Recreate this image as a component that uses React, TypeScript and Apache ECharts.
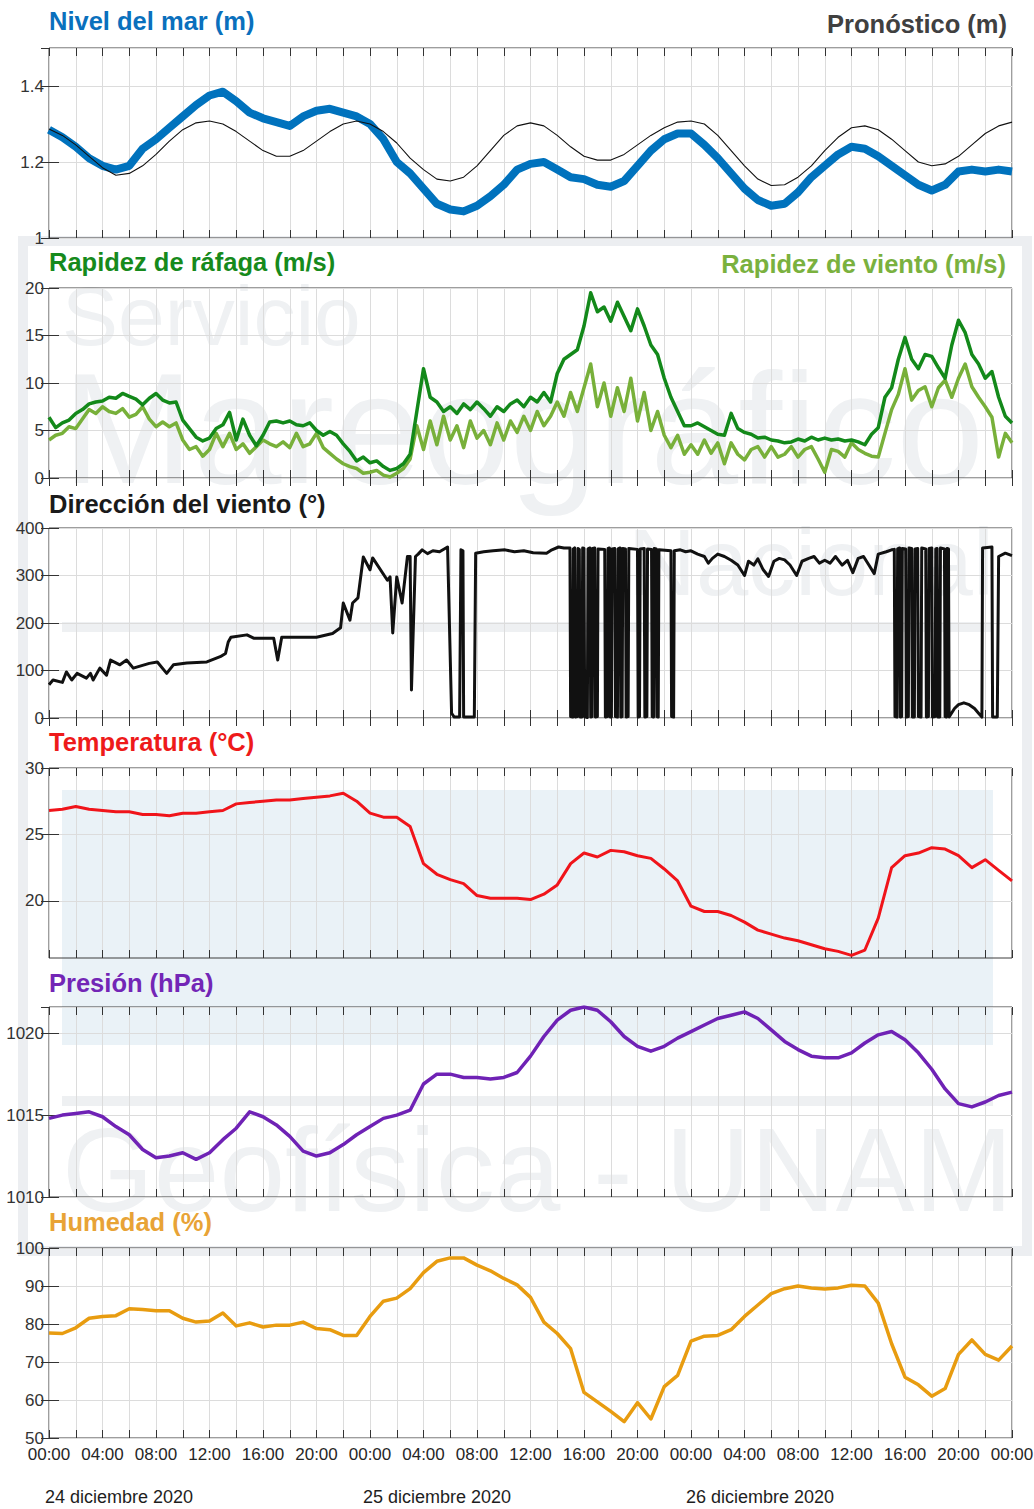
import React, { useEffect, useRef } from 'react';
import * as echarts from 'echarts';

// ---------------- DATA ----------------
// Hours from 24 dic 2020 00:00 (0) to 27 dic 2020 00:00 (72)
const timeTickLabels = ['00:00', '04:00', '08:00', '12:00', '16:00', '20:00'];
const dateLabels = ['24 diciembre 2020', '25 diciembre 2020', '26 diciembre 2020'];

// hourly observed sea level (m)
const seaLevel = [
  1.285, 1.265, 1.24, 1.21, 1.19, 1.18, 1.19, 1.235, 1.26, 1.29,
  1.32, 1.35, 1.375, 1.385, 1.36, 1.33, 1.315, 1.305, 1.295, 1.32,
  1.335, 1.34, 1.33, 1.32, 1.30, 1.26, 1.20, 1.17, 1.13, 1.09,
  1.075, 1.07, 1.085, 1.11, 1.14, 1.18, 1.195, 1.2, 1.18, 1.16,
  1.155, 1.14, 1.135, 1.15, 1.19, 1.23, 1.26, 1.275, 1.275, 1.245,
  1.21, 1.17, 1.13, 1.1, 1.085, 1.09, 1.12, 1.16, 1.19, 1.22,
  1.24, 1.235, 1.215, 1.19, 1.165, 1.14, 1.125, 1.14, 1.175, 1.18,
  1.175, 1.18, 1.175,
];

// hourly forecast (m)
const forecast = [
  1.287, 1.27, 1.245, 1.215, 1.185, 1.165, 1.17, 1.19, 1.22, 1.255,
  1.285, 1.303, 1.308, 1.30, 1.28, 1.255, 1.23, 1.215, 1.215, 1.23,
  1.255, 1.28, 1.30, 1.308, 1.30, 1.28, 1.25, 1.21, 1.18, 1.155,
  1.15, 1.16, 1.19, 1.23, 1.27, 1.295, 1.303, 1.295, 1.27, 1.24,
  1.215, 1.205, 1.205, 1.22, 1.245, 1.27, 1.29, 1.305, 1.308, 1.30,
  1.27, 1.23, 1.19, 1.155, 1.138, 1.14, 1.16, 1.19, 1.23, 1.265,
  1.29, 1.295, 1.285, 1.26, 1.23, 1.20, 1.19, 1.195, 1.215, 1.245,
  1.275, 1.295, 1.305,
];

// half-hourly gust speed (m/s)
const gust = [
  6.4, 5.3, 5.8, 6.1, 6.8, 7.2, 7.8, 8.0, 8.1, 8.5,
  8.4, 8.9, 8.6, 8.3, 7.7, 8.4, 8.9, 8.2, 7.9, 8.0,
  6.1, 5.2, 4.3, 3.9, 4.2, 5.2, 5.6, 6.9, 4.0, 6.2,
  4.5, 3.4, 4.5, 5.9, 6.0, 5.8, 6.0, 5.6, 5.5, 5.8,
  5.0, 4.5, 4.9, 4.5, 3.6, 2.8, 1.8, 2.2, 1.6, 1.8,
  1.2, 0.8, 1.0, 1.5, 2.5, 7.0, 11.5, 8.5, 8.0, 7.0,
  7.5, 6.8, 7.8, 7.2, 8.0, 7.3, 6.5, 7.5, 7.0, 7.8,
  8.2, 7.5, 8.5, 8.0, 9.0, 8.0, 11.0, 12.5, 13.0, 13.5,
  16.0, 19.5, 17.5, 18.0, 16.5, 18.5, 17.0, 15.5, 17.8, 16.0,
  14.0, 13.0, 10.5, 8.5, 7.0, 5.5, 5.5, 5.8, 5.4, 5.0,
  4.6, 4.5, 6.8, 5.2, 4.8, 4.6, 4.2, 4.3, 4.0, 3.9,
  3.7, 3.8, 4.1, 3.9, 4.3, 4.0, 4.2, 4.0, 4.1, 3.9,
  4.0, 3.8, 3.5, 4.6, 5.3, 8.5, 9.5, 12.5, 14.8, 12.5,
  11.5, 13.0, 12.8, 11.6, 10.5, 14.0, 16.6, 15.3, 13.0, 12.0,
  10.5, 11.2, 8.5, 6.5, 5.8,
];

// half-hourly wind speed (m/s)
const wind = [
  4.0, 4.5, 4.7, 5.4, 5.2, 6.2, 7.2, 6.8, 7.5, 7.0,
  6.8, 7.3, 6.4, 6.7, 7.5, 6.2, 5.4, 5.9, 5.4, 5.8,
  4.0, 3.0, 3.3, 2.3, 3.0, 4.7, 3.3, 4.7, 3.0, 3.6,
  2.6, 3.3, 4.0, 3.6, 3.3, 3.8, 3.2, 4.7, 3.3, 3.6,
  4.7, 3.2, 2.6, 2.0, 1.5, 1.2, 1.0, 0.5, 0.6, 0.8,
  0.3, 0.1, 0.5, 1.0, 2.0, 5.5, 3.0, 6.0, 3.5, 6.5,
  4.0, 5.5, 3.2, 6.0, 4.2, 5.0, 3.5, 5.8, 4.0, 6.0,
  4.8, 6.5, 5.0, 7.0, 5.5, 6.5, 8.0, 6.5, 9.0, 7.0,
  9.5, 12.0, 7.5, 10.0, 6.5, 9.5, 7.0, 10.5, 6.0, 9.0,
  5.0, 7.0, 4.5, 3.2, 4.5, 2.5, 3.5, 2.5, 4.0, 2.6,
  3.7, 1.5, 3.7, 2.5, 1.9, 3.0, 3.3, 2.2, 3.3, 2.2,
  2.5, 3.3, 2.2, 3.0, 3.3, 2.0, 0.6, 3.0, 2.8, 2.2,
  3.7, 3.0, 2.6, 2.3, 2.2, 4.7, 7.2, 8.8, 11.5, 8.2,
  9.2, 9.6, 7.5, 9.5, 10.3, 8.5, 10.5, 12.0, 9.6, 8.5,
  7.5, 6.4, 2.2, 4.7, 3.7,
];

// wind direction samples [hour, degrees]
const windDirection: [number, number][] = [
  [0, 70], [0.3, 80], [1.0, 75], [1.3, 97], [1.7, 80], [2.1, 94], [2.8, 84], [3.1, 94], [3.3, 80],
  [3.8, 105], [4.3, 90], [4.6, 122], [5.3, 112], [5.8, 122], [6.3, 105], [7.5, 115], [8.1, 118],
  [8.8, 94], [9.3, 112], [10.3, 116], [11.8, 118], [12.8, 129], [13.2, 136], [13.4, 160], [13.6, 170],
  [14.8, 175], [15.3, 168], [16.8, 168], [17.1, 122], [17.4, 170], [20.0, 170], [21.2, 178],
  [21.8, 190], [22.0, 242], [22.5, 206], [22.7, 242], [23.1, 253], [23.5, 339], [24.0, 312],
  [24.2, 337], [25.3, 290], [25.5, 297], [25.7, 179], [26.0, 297], [26.4, 242], [26.8, 340],
  [27.0, 340], [27.1, 59], [27.4, 340], [27.6, 345], [27.9, 354], [28.3, 346], [28.7, 352],
  [29.2, 350], [29.8, 360], [30.1, 10], [30.3, 2], [30.7, 2], [30.8, 354], [30.95, 352], [31.0, 2],
  [31.8, 2], [31.9, 347], [32.5, 350], [33.2, 352], [34.1, 354], [34.8, 350], [35.5, 352],
  [36.2, 348], [37.2, 347], [37.6, 354], [38.1, 360], [38.5, 358], [38.95, 358],
  [39.0, 3], [39.15, 2], [39.2, 356], [39.3, 358], [39.35, 2], [39.5, 3], [39.55, 357], [39.65, 355],
  [39.7, 2], [39.85, 2], [39.9, 358], [40.0, 357], [40.05, 3], [40.25, 1], [40.3, 356], [40.45, 358],
  [40.5, 2], [40.6, 3], [40.65, 357], [40.8, 358], [40.85, 2], [41.0, 3], [41.05, 356], [41.55, 355],
  [41.6, 2], [41.75, 3], [41.8, 357], [41.9, 358], [41.95, 2], [42.05, 2], [42.1, 356], [42.3, 357],
  [42.35, 3], [42.5, 2], [42.55, 356], [42.7, 358], [42.75, 2], [42.85, 3], [42.9, 357], [43.1, 356],
  [43.15, 2], [43.3, 3], [43.35, 357], [44.0, 355], [44.05, 2], [44.15, 3], [44.2, 356], [44.5, 357],
  [44.55, 2], [44.7, 3], [44.75, 356], [45.05, 355], [45.1, 3], [45.2, 2], [45.25, 357], [45.4, 356],
  [45.45, 3], [45.55, 2], [45.6, 354], [46.5, 352], [46.55, 3], [46.7, 2], [46.75, 352], [47.2, 354],
  [47.6, 350], [48.0, 352], [48.5, 345], [49.0, 340], [49.3, 326], [49.6, 336], [50.0, 345],
  [50.5, 340], [51.0, 332], [51.5, 322], [52.0, 300], [52.3, 330], [52.7, 322], [53.0, 335],
  [53.4, 312], [53.8, 298], [54.2, 330], [54.6, 336], [55.0, 333], [55.4, 322], [55.9, 300],
  [56.3, 330], [56.8, 336], [57.2, 340], [57.6, 326], [58.0, 332], [58.4, 326], [58.8, 340],
  [59.3, 322], [59.7, 332], [60.1, 306], [60.5, 336], [60.9, 340], [61.3, 322], [61.7, 304],
  [62.0, 345], [62.6, 350], [63.0, 354],
  [63.2, 355], [63.25, 3], [63.4, 2], [63.45, 356], [63.6, 358], [63.65, 2], [63.75, 3], [63.8, 357],
  [64.05, 356], [64.1, 2], [64.25, 3], [64.3, 358], [64.5, 357], [64.55, 2], [64.7, 2], [64.75, 356],
  [64.95, 357], [65.0, 3], [65.2, 2], [65.25, 358], [65.55, 356], [65.6, 2], [65.75, 3], [65.8, 357],
  [66.0, 358], [66.05, 2], [66.25, 3], [66.3, 356], [66.4, 357], [66.45, 2], [66.6, 2], [66.65, 358],
  [66.95, 356], [67.0, 3], [67.1, 2], [67.15, 357], [67.25, 356], [67.3, 2], [67.7, 20], [68.0, 28],
  [68.4, 32], [68.8, 28], [69.2, 20], [69.5, 10], [69.75, 2], [69.8, 358], [70.5, 360], [70.55, 2],
  [70.9, 2], [71.0, 340], [71.5, 347], [72.0, 342],
];

// hourly temperature (°C)
const temperature = [
  26.8, 26.9, 27.1, 26.9, 26.8, 26.7, 26.7, 26.5, 26.5, 26.4,
  26.6, 26.6, 26.7, 26.8, 27.3, 27.4, 27.5, 27.6, 27.6, 27.7,
  27.8, 27.9, 28.1, 27.5, 26.6, 26.3, 26.3, 25.6, 22.8, 22.0,
  21.6, 21.3, 20.4, 20.2, 20.2, 20.2, 20.1, 20.5, 21.2, 22.8,
  23.6, 23.3, 23.8, 23.7, 23.4, 23.2, 22.4, 21.5, 19.6, 19.2,
  19.2, 18.9, 18.4, 17.8, 17.5, 17.2, 17.0, 16.7, 16.4, 16.2,
  15.9, 16.3, 18.7, 22.5, 23.4, 23.6, 24.0, 23.9, 23.4, 22.5,
  23.1, 22.3, 21.5,
];

// hourly pressure (hPa)
const pressure = [
  1014.8, 1015.0, 1015.1, 1015.2, 1014.9, 1014.3, 1013.8, 1012.9, 1012.4, 1012.5,
  1012.7, 1012.3, 1012.7, 1013.5, 1014.2, 1015.2, 1014.9, 1014.4, 1013.7, 1012.8,
  1012.5, 1012.7, 1013.2, 1013.8, 1014.3, 1014.8, 1015.0, 1015.3, 1016.9, 1017.5,
  1017.5, 1017.3, 1017.3, 1017.2, 1017.3, 1017.6, 1018.6, 1019.8, 1020.8, 1021.4,
  1021.6, 1021.4, 1020.7, 1019.8, 1019.2, 1018.9, 1019.2, 1019.7, 1020.1, 1020.5,
  1020.9, 1021.1, 1021.3, 1020.9, 1020.2, 1019.5, 1019.0, 1018.6, 1018.5, 1018.5,
  1018.8, 1019.4, 1019.9, 1020.1, 1019.6, 1018.8, 1017.8, 1016.6, 1015.7, 1015.5,
  1015.8, 1016.2, 1016.4,
];

// hourly relative humidity (%)
const humidity = [
  77.6, 77.5, 79.0, 81.5, 82.0, 82.2, 84.0, 83.8, 83.5, 83.5,
  81.5, 80.5, 80.8, 82.9, 79.5, 80.3, 79.2, 79.7, 79.7, 80.5,
  78.8, 78.5, 77.0, 77.0, 82.0, 86.0, 86.8, 89.3, 93.5, 96.5,
  97.4, 97.4, 95.5, 94.0, 92.0, 90.3, 87.0, 80.5, 77.5, 73.5,
  62.0, 59.5, 57.0, 54.3, 59.3, 55.0, 63.5, 66.5, 75.5, 76.8,
  77.0, 78.5, 82.0, 85.0, 88.0, 89.3, 90.0, 89.5, 89.2, 89.5,
  90.2, 90.0, 85.5, 74.8, 66.0, 64.0, 61.0, 63.0, 72.0, 75.8,
  72.0, 70.5, 74.2,
];

const panelTitles = [
  'Nivel del mar (m)',
  'Rapidez de ráfaga (m/s)',
  'Dirección del viento (°)',
  'Temperatura (°C)',
  'Presión (hPa)',
  'Humedad (%)',
];
const rightTitles = ['Pronóstico (m)', 'Rapidez de viento (m/s)'];

// ---------------- LAYOUT / STYLE ----------------
const FONT = '"Liberation Sans", Arial, Helvetica, sans-serif';
const GRID_LEFT = 49;
const GRID_RIGHT = 22;
const GRID_H = 190;
const TITLE_SIZE = 25.5;

type Panel = {
  top: number; min: number; max: number; interval?: number;
  custom?: number[]; hideMax?: boolean; titleY: number; titleColor: string;
};

const panels: Panel[] = [
  { top: 48, min: 1, max: 1.5, interval: 0.2, hideMax: true, titleY: 21, titleColor: '#0a70bd' },
  { top: 288, min: 0, max: 20, interval: 5, titleY: 261.5, titleColor: '#168a1c' },
  { top: 528, min: 0, max: 400, interval: 100, titleY: 503.5, titleColor: '#1a1a1a' },
  { top: 768, min: 15.7, max: 30, custom: [20, 25, 30], titleY: 742, titleColor: '#ee1a1a' },
  { top: 1007, min: 1010, max: 1021.6, interval: 5, hideMax: true, titleY: 983, titleColor: '#7326b6' },
  { top: 1248, min: 50, max: 100, interval: 10, titleY: 1221.5, titleColor: '#e8a336' },
];

const fmtTime = (v: number) => {
  const h = Math.round(v);
  return h % 4 === 0 ? timeTickLabels[(h % 24) / 4] : '';
};
const fmtValue = (v: number) => String(Math.round(v * 1000) / 1000);

function buildOption() {
  const grids = panels.map((p) => ({
    left: GRID_LEFT, right: GRID_RIGHT, top: p.top, height: GRID_H,
    show: true, borderColor: '#3d3d3d', borderWidth: 1, backgroundColor: 'transparent',
    containLabel: false, outerBoundsMode: 'none',
  }));

  const xAxes: any[] = [];
  const yAxes: any[] = [];
  panels.forEach((p, i) => {
    const last = i === panels.length - 1;
    xAxes.push({
      type: 'value', gridIndex: i, position: 'bottom', min: 0, max: 72, interval: 2,
      axisLine: { show: false },
      axisTick: { show: true, inside: true, length: 8, lineStyle: { color: '#333', width: 1 } },
      axisLabel: {
        show: last, margin: 8, color: '#262626', fontSize: 17, fontFamily: FONT,
        formatter: fmtTime, showMinLabel: true, showMaxLabel: true,
      },
      splitLine: { show: true, lineStyle: { color: '#dcdcdc', width: 1 } },
    });
    xAxes.push({
      type: 'value', gridIndex: i, position: 'top', min: 0, max: 72, interval: 2,
      axisLine: { show: false },
      axisTick: { show: true, inside: true, length: 8, lineStyle: { color: '#333', width: 1 } },
      axisLabel: { show: false },
      splitLine: { show: false },
    });
    const tick: any = { show: true, inside: true, length: 10, lineStyle: { color: '#333', width: 1 } };
    const label: any = {
      color: '#333', fontSize: 17, fontFamily: FONT, margin: 5, formatter: fmtValue,
      showMinLabel: true, showMaxLabel: !p.hideMax,
    };
    const split: any = { show: true, lineStyle: { color: '#dcdcdc', width: 1 } };
    if (p.custom) {
      tick.customValues = p.custom;
      label.customValues = p.custom;
      split.customValues = p.custom;
    }
    const base: any = { type: 'value', gridIndex: i, min: p.min, max: p.max };
    if (p.interval) base.interval = p.interval;
    yAxes.push({ ...base, position: 'left', axisLine: { show: false }, axisTick: tick, axisLabel: label, splitLine: split });
    yAxes.push({
      ...base, position: 'right', axisLine: { show: false },
      axisTick: { ...tick, length: 8 }, axisLabel: { show: false }, splitLine: { show: false },
    });
  });

  const line = (idx: number, data: any[], color: string, width: number, z = 3) => ({
    type: 'line', xAxisIndex: idx * 2, yAxisIndex: idx * 2, data,
    showSymbol: false, symbol: 'none', silent: true, z,
    lineStyle: { color, width, join: 'round' }, emphasis: { disabled: true },
  });

  const hourly = (arr: number[]) => arr.map((v, i) => [i, v]);
  const halfHourly = (arr: number[]) => arr.map((v, i) => [i / 2, v]);

  const series = [
    line(0, hourly(seaLevel), '#0072bd', 8, 3),
    line(0, hourly(forecast), '#111111', 1.1, 4),
    line(1, halfHourly(wind), '#78b03a', 3.5, 3),
    line(1, halfHourly(gust), '#13891a', 3.5, 4),
    line(2, windDirection, '#111111', 3, 3),
    line(3, hourly(temperature), '#f0141a', 3, 3),
    line(4, hourly(pressure), '#6f22b5', 3.5, 3),
    line(5, hourly(humidity), '#e89c10', 3.5, 3),
  ];

  const wm = '#eff1f3';
  const graphic: any[] = [
    // faint institutional watermark behind the plots
    { type: 'rect', silent: true, z: -10, shape: { x: 23, y: 241, width: 1004, height: 1010 },
      style: { fill: 'none', stroke: '#eceef1', lineWidth: 10 } },
    { type: 'rect', silent: true, z: -10, shape: { x: 62, y: 790, width: 931, height: 255 },
      style: { fill: '#eaf2f7' } },
    { type: 'rect', silent: true, z: -10, shape: { x: 62, y: 622, width: 931, height: 10 },
      style: { fill: '#eef0f2' } },
    { type: 'rect', silent: true, z: -10, shape: { x: 62, y: 1096, width: 931, height: 10 },
      style: { fill: '#eef0f2' } },
    { type: 'text', silent: true, z: -9, x: 62, y: 316,
      style: { text: 'Servicio', fill: wm, fontSize: 84, fontFamily: FONT, textVerticalAlign: 'middle' } },
    { type: 'text', silent: true, z: -9, x: 62, y: 428,
      style: { text: 'Mareográfico', fill: wm, fontSize: 158, fontFamily: FONT, textVerticalAlign: 'middle' } },
    { type: 'text', silent: true, z: -9, x: 628, y: 562,
      style: { text: 'Nacional', fill: wm, fontSize: 94, fontFamily: FONT, textVerticalAlign: 'middle' } },
    { type: 'text', silent: true, z: -9, x: 62, y: 1170,
      style: { text: 'Geofísica - UNAM', fill: wm, fontSize: 118, fontFamily: FONT, textVerticalAlign: 'middle' } },
  ];

  panels.forEach((p, i) => {
    graphic.push({
      type: 'text', silent: true, z: 20, x: GRID_LEFT, y: p.titleY,
      style: {
        text: panelTitles[i], fill: p.titleColor, fontSize: TITLE_SIZE, fontWeight: 'bold',
        fontFamily: FONT, textAlign: 'left', textVerticalAlign: 'middle',
      },
    });
  });
  graphic.push({
    type: 'text', silent: true, z: 20, x: 1007, y: 23.5,
    style: { text: rightTitles[0], fill: '#404040', fontSize: TITLE_SIZE, fontWeight: 'bold', fontFamily: FONT,
      textAlign: 'right', textVerticalAlign: 'middle' },
  });
  graphic.push({
    type: 'text', silent: true, z: 20, x: 1006, y: 263.5,
    style: { text: rightTitles[1], fill: '#7ab13e', fontSize: TITLE_SIZE, fontWeight: 'bold', fontFamily: FONT,
      textAlign: 'right', textVerticalAlign: 'middle' },
  });
  const dateX = [45, 363, 686];
  dateLabels.forEach((d, i) => {
    graphic.push({
      type: 'text', silent: true, z: 20, x: dateX[i], y: 1497,
      style: { text: d, fill: '#1e1e1e', fontSize: 18, fontFamily: FONT,
        textAlign: 'left', textVerticalAlign: 'middle' },
    });
  });

  return {
    animation: false,
    backgroundColor: '#ffffff',
    grid: grids,
    xAxis: xAxes,
    yAxis: yAxes,
    series,
    graphic,
  };
}

export default function App() {
  const ref = useRef<HTMLDivElement>(null);
  useEffect(() => {
    if (!ref.current) return;
    const chart = echarts.init(ref.current, undefined, { renderer: 'svg' });
    chart.setOption(buildOption() as any);
    return () => chart.dispose();
  }, []);
  return (
    <div
      ref={ref}
      style={{ position: 'absolute', left: 0, top: 0, width: 1034, height: 1509, background: '#fff' }}
    />
  );
}
